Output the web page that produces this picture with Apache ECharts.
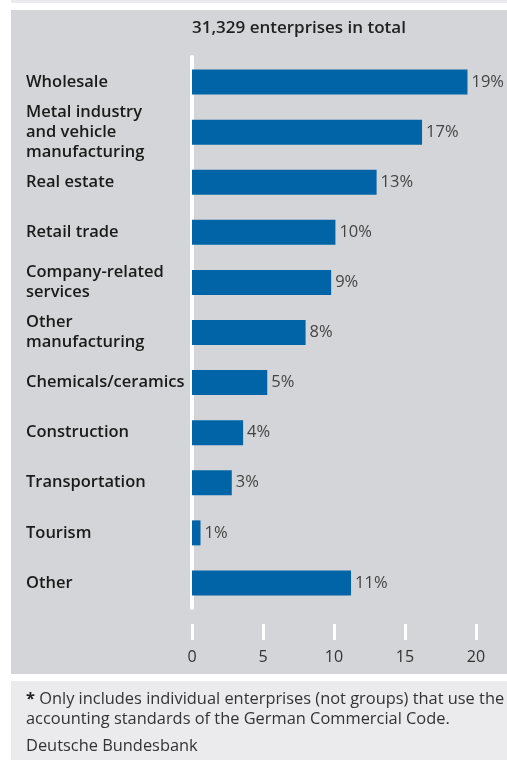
<!DOCTYPE html>
<html>
<head>
<meta charset="utf-8">
<script src="https://cdn.jsdelivr.net/npm/echarts@6/dist/echarts.min.js"></script>
<style>
html,body{margin:0;padding:0;background:#fff;}
#c{width:507px;height:760px;}
</style>
</head>
<body>
<div id="c"></div>
<script>
const categories = ['Wholesale','Metal industry\nand vehicle\nmanufacturing','Real estate','Retail trade','Company-related\nservices','Other\nmanufacturing','Chemicals/ceramics','Construction','Transportation','Tourism','Other'];
const values = [19.4, 16.2, 13.0, 10.1, 9.8, 8.0, 5.3, 3.6, 2.8, 0.6, 11.2];
const valueLabels = ['19%','17%','13%','10%','9%','8%','5%','4%','3%','1%','11%'];
const xTicks = [0, 5, 10, 15, 20];
const title = '31,329 enterprises in total';
const footnote = 'Only includes individual enterprises (not groups) that use the\naccounting standards of the German Commercial Code.';
const source = 'Deutsche Bundesbank';

const FONT = '"Open Sans", "Noto Sans", sans-serif';
const chart = echarts.init(document.getElementById('c'), null, {renderer:'canvas'});
chart.setOption({
  animation: false,
  backgroundColor: '#ffffff',
  graphic: [
    {type:'rect', z:-10, shape:{x:11, y:0, width:496, height:3}, style:{fill:'#ebebed'}},
    {type:'rect', z:-10, shape:{x:11, y:10, width:496, height:664}, style:{fill:'#d4d5d8'}},
    {type:'rect', z:-10, shape:{x:11, y:681, width:496, height:79}, style:{fill:'#ebebee'}},
    {type:'text', left: 192, top: 20, style:{text:title, font:'600 17px ' + FONT, fill:'#222'}},
    {type:'text', left: 26, top: 689, style:{
      text:'{b|*} ' + footnote, font:'16.4px ' + FONT, fill:'#333', lineHeight:20,
      rich:{b:{fontWeight:'bold', fontSize:16.4, fontFamily:FONT, fill:'#222', lineHeight:20}}
    }},
    {type:'text', left: 26, top: 738, style:{text:source, font:'16.4px ' + FONT, fill:'#333'}}
  ],
  grid: {left: 192, right: 31, top: 57, bottom: 152, containLabel:false},
  xAxis: {
    type:'value', min:0, max:20, interval:5,
    offset: 16,
    axisLine:{show:false},
    axisTick:{show:true, length:16, lineStyle:{color:'#fff', width:3}},
    splitLine:{show:false},
    axisLabel:{color:'#333', fontSize:16, fontFamily:FONT, margin:25,
      formatter: v => xTicks.includes(v) ? String(v) : ''}
  },
  yAxis: {
    type:'category', data:categories, inverse:true,
    axisLine:{show:true, lineStyle:{color:'#fff', width:4}},
    axisTick:{show:false},
    axisLabel:{align:'left', margin:166, color:'#1a1a1a', fontSize:16.5, fontWeight:600, fontFamily:FONT, lineHeight:20, padding:[4,0,0,0]}
  },
  series: [{
    type:'bar', data:values, barWidth:25, itemStyle:{color:'#0064a6'}, z:1,
    label:{show:true, position:'right', distance:4, color:'#444', fontSize:16.5, fontFamily:FONT, padding:[3,0,0,0],
      formatter: p => valueLabels[p.dataIndex]}
  }]
});
</script>
</body>
</html>
